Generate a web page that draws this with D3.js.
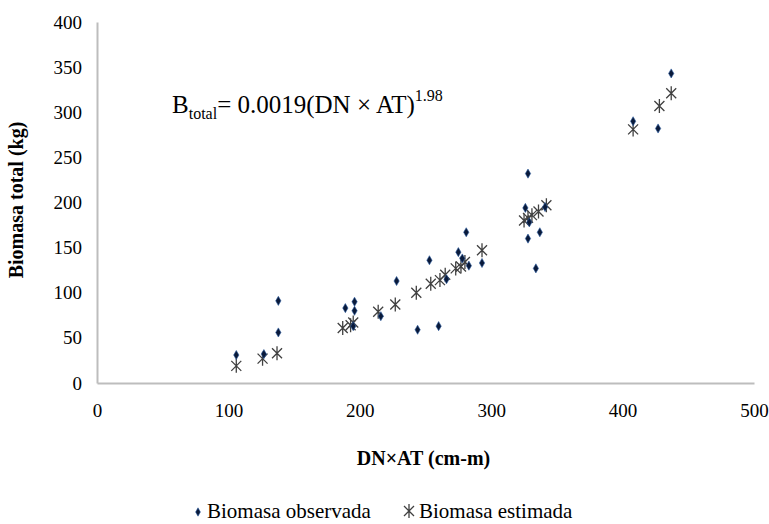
<!DOCTYPE html>
<html>
<head>
<meta charset="utf-8">
<script src="https://cdn.jsdelivr.net/npm/d3@7"></script>
<style>
  body { margin: 0; background: #fff; }
  svg text { font-family: "Liberation Serif", "Times New Roman", serif; fill: #000; }
</style>
</head>
<body>
<div id="chart"></div>
<script>
// observed biomass (diamonds)
const obsX = [106, 127, 138, 138, 189, 196, 196, 195, 216, 228, 244, 253, 260, 266, 275, 278, 281, 283, 293, 326, 328, 328, 329, 334, 337, 341, 408, 427, 437];
const obsY = [31, 32, 91, 56, 83, 90, 80, 63, 74, 113, 59, 136, 63, 115, 145, 138, 167, 130, 133, 194, 232, 160, 178, 127, 167, 195, 290, 282, 343];

// estimated biomass (asterisks)
const estX = [106, 126, 137, 187, 193, 195, 214, 227, 243, 254, 261, 265, 273, 277, 280, 293, 325, 328, 331, 336, 342, 408, 428, 437];
const estY = [19, 27, 33, 61, 64, 67, 79, 87, 100, 110, 114, 120, 127, 129, 134, 147, 180, 183, 186, 190, 197, 281, 307, 321];

const xTicks = [0, 100, 200, 300, 400, 500];
const yTicks = [0, 50, 100, 150, 200, 250, 300, 350, 400];

const W = 769, H = 524;
const margin = ({ top: 22, right: 15, bottom: 141, left: 97 });
const width = W - margin.left - margin.right,
    height = H - margin.top - margin.bottom;

let svg = d3.select("#chart").append("svg")
    .attr("width", W)
    .attr("height", H)
    .attr("font-family", "'Liberation Serif', serif");

let g = svg.append("g")
    .attr("transform", "translate(" + margin.left + "," + margin.top + ")");

let xScale = d3.scaleLinear().domain([0, 500]).range([0, width]);
let yScale = d3.scaleLinear().domain([0, 400]).range([height, 0]);

// axes
let xAxis = d3.axisBottom(xScale).tickValues(xTicks).tickSize(0).tickPadding(21);
let yAxis = d3.axisLeft(yScale).tickValues(yTicks).tickSize(0).tickPadding(15);

let gx = g.append("g").attr("transform", `translate(0, ${height})`).call(xAxis);
let gy = g.append("g").call(yAxis);
[gx, gy].forEach(a => {
  a.attr("font-family", null).attr("font-size", null);
  a.select(".domain").attr("stroke", "#bdbdbd").attr("stroke-width", 2);
  a.selectAll("text").style("font-size", "19px");
});

// axis titles
svg.append("text")
    .attr("x", margin.left + width / 2 - 2)
    .attr("y", 465)
    .attr("text-anchor", "middle")
    .style("font-size", "20px").style("font-weight", "bold")
    .text("DN×AT (cm-m)");

svg.append("text")
    .attr("transform", "translate(23,200) rotate(-90)")
    .attr("text-anchor", "middle")
    .style("font-size", "20px").style("font-weight", "bold")
    .text("Biomasa total (kg)");

// equation
let eq = svg.append("text").attr("x", 172).attr("y", 113).style("font-size", "25px");
eq.append("tspan").text("B");
eq.append("tspan").attr("dy", 6).style("font-size", "16px").text("total");
eq.append("tspan").attr("dy", -6).text("= 0.0019(DN × AT)");
eq.append("tspan").attr("dy", -12).style("font-size", "16px").text("1.98");

// markers
const diamond = d3.symbol().type(d3.symbolDiamond).size(24);
const star = "M-5,-5L5,5M-5,5L5,-5M0,-7L0,7";

g.selectAll(".est").data(d3.range(estX.length)).join("path")
    .attr("class", "est")
    .attr("transform", i => `translate(${xScale(estX[i])},${yScale(estY[i])})`)
    .attr("d", star)
    .attr("fill", "none").attr("stroke", "#404040").attr("stroke-width", 1.3);

g.selectAll(".obs").data(d3.range(obsX.length)).join("path")
    .attr("class", "obs")
    .attr("transform", i => `translate(${xScale(obsX[i])},${yScale(obsY[i])})`)
    .attr("d", diamond)
    .attr("fill", "#0a1a3a").attr("stroke", "#2a5aa0").attr("stroke-width", 0.6);

// legend (kept just inside the bottom edge)
let leg = svg.append("g").attr("transform", "translate(0,518)");
leg.append("path").attr("d", d3.symbol().type(d3.symbolDiamond).size(20))
    .attr("transform", "translate(198,-6)")
    .attr("fill", "#0a1a3a").attr("stroke", "#2a5aa0").attr("stroke-width", 0.6);
leg.append("text").attr("x", 207).attr("y", 0).style("font-size", "21px").text("Biomasa observada");
leg.append("path").attr("d", star)
    .attr("transform", "translate(409,-7)")
    .attr("fill", "none").attr("stroke", "#404040").attr("stroke-width", 1.3);
leg.append("text").attr("x", 419).attr("y", 0).style("font-size", "21px").text("Biomasa estimada");
</script>
</body>
</html>
